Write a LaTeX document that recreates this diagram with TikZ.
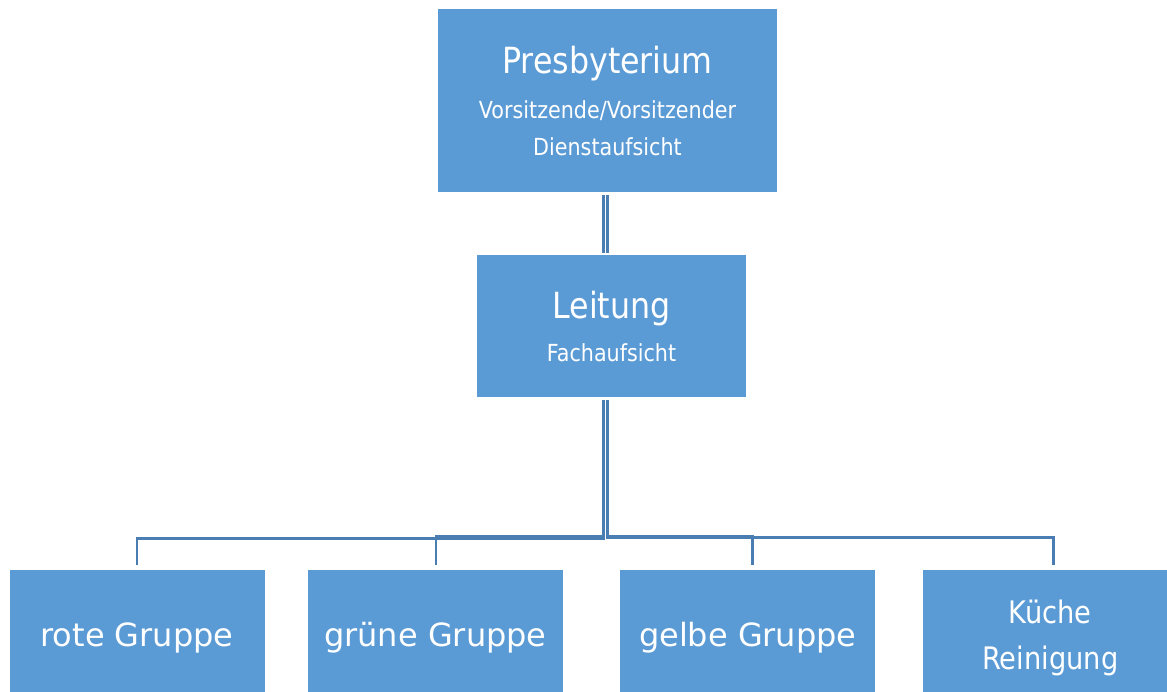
\documentclass[tikz,border=0pt]{standalone}
\usepackage{fontspec}
\setmainfont{DejaVu Sans}
\newfontfamily\narrowfont{DejaVu Sans}[FakeStretch=0.88]
\usetikzlibrary{positioning}
\definecolor{boxblue}{HTML}{5B9BD5}
\definecolor{lineblue}{HTML}{4A7EB2}

\begin{document}
\begin{tikzpicture}[
                x=1pt, y=-1pt,
                box/.style={fill=boxblue, text=white, inner sep=0pt, align=center},
                group/.style={box, minimum width=255pt, minimum height=136pt, font=\fontsize{32}{38}\selectfont},
                conn/.style={draw=lineblue, line width=2.7pt},
                twin/.style={draw=lineblue, line width=2.7pt, double=white, double distance=1.3pt}
            ]

                \useasboundingbox (0,0) rectangle (1167,692);

                \node[box, minimum width=339pt, minimum height=183pt, font=\narrowfont\fontsize{23.5}{37}\selectfont] (presb) at (607.5,100.5)
                    {{\fontsize{36}{40}\selectfont Presbyterium}\\[8pt] Vorsitzende/Vorsitzender\\ Dienstaufsicht};
                \node[box, minimum width=269pt, minimum height=142pt, font=\narrowfont\fontsize{23.5}{43}\selectfont] (leitung) at (611.5,326)
                    {{\fontsize{36}{40}\selectfont Leitung}\\ Fachaufsicht};

                \node[group] (rote) at (137,637.5) {rote Gruppe};
                \node[group] (gruene) [right = 43pt of rote]   {grüne Gruppe};
                \node[group] (gelbe)  [right = 57pt of gruene] {gelbe Gruppe};
                \node[group, font=\narrowfont\fontsize{31}{46}\selectfont] (kueche) [right = 47pt of gelbe] {Küche\\ Reinigung};

                \draw[twin] ([xshift=-2pt,yshift=-3pt]presb.south) -- ([xshift=-2pt,yshift=2pt]presb.south |- leitung.north);
                \draw[conn] ([xshift=-8.2pt,yshift=-3pt]leitung.south) -- ++(0,138.5) -| ([yshift=4pt]rote.north);
                \draw[conn] ([xshift=-8.2pt,yshift=-3pt]leitung.south) -- ++(0,136.5) -| ([xshift=0.5pt,yshift=4pt]gruene.north);
                \draw[conn] ([xshift=-4.2pt,yshift=-3pt]leitung.south) -- ++(0,136) -| ([xshift=4.5pt,yshift=4pt]gelbe.north);
                \draw[conn] ([xshift=-4.2pt,yshift=-3pt]leitung.south) -- ++(0,137) -| ([xshift=3pt,yshift=4pt]kueche.north);

            \end{tikzpicture}
\end{document}
